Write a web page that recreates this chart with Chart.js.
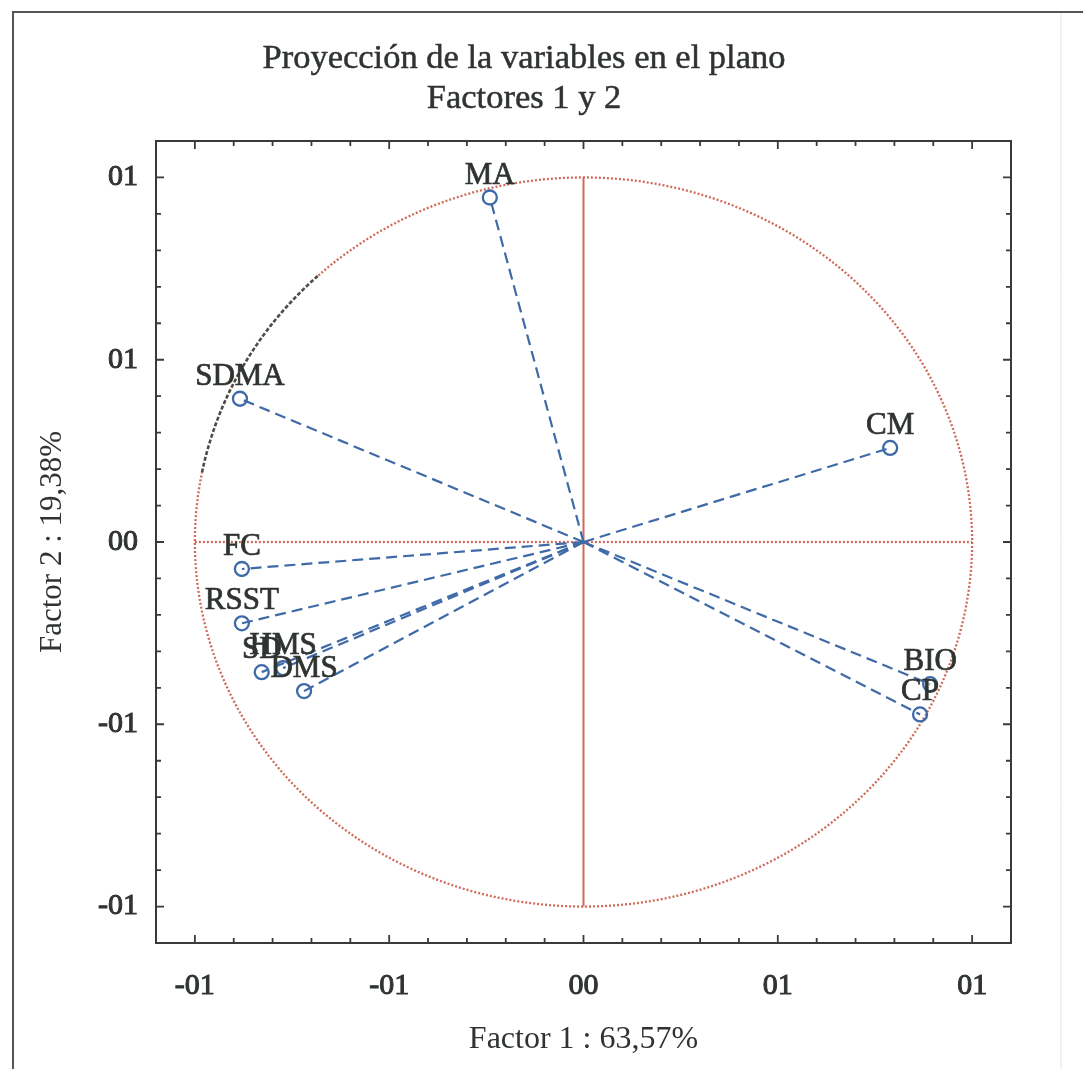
<!DOCTYPE html>
<html>
<head>
<meta charset="utf-8">
<script src="https://cdn.jsdelivr.net/npm/chart.js@4.4.1/dist/chart.umd.min.js"></script>
<style>
  html, body { margin: 0; padding: 0; background: #ffffff; }
  #wrap { position: relative; width: 1083px; height: 1069px; }
  canvas { position: absolute; left: 0; top: 0; }
</style>
</head>
<body>
<div id="wrap"><canvas id="c" width="1083" height="1069"></canvas></div>
<script>
// Variable coordinates on the first two factors
const variables = ['MA', 'SDMA', 'CM', 'FC', 'RSST', 'SD', 'HMS', 'DMS', 'BIO', 'CP'];
const factor1   = [-0.241, -0.884, 0.789, -0.879, -0.879, -0.828, -0.773, -0.719, 0.892, 0.866];
const factor2   = [ 0.945,  0.393, 0.258, -0.074, -0.223, -0.357, -0.346, -0.409, -0.390, -0.473];

// Axis tick values and their printed labels
const tickValues  = [-1, -0.5, 0, 0.5, 1];
const xTickLabels = ['-01', '-01', '00', '01', '01'];
const yTickLabels = ['-01', '-01', '00', '01', '01'];

const titleLines = ['Proyección de la variables en el plano', 'Factores 1 y 2'];
const xTitle = 'Factor 1 : 63,57%';
const yTitle = 'Factor 2 : 19,38%';

const SERIF = '"Liberation Serif", "DejaVu Serif", serif';
const INK = '#2f3430';
const BLUE = '#3f6aa8';
const RED = '#cf6a58';

// White page with the frame lines around the figure
const pageFrame = {
  id: 'pageFrame',
  beforeDraw(chart) {
    const ctx = chart.ctx;
    ctx.save();
    ctx.fillStyle = '#ffffff';
    ctx.fillRect(0, 0, chart.width, chart.height);
    ctx.strokeStyle = '#555555';
    ctx.lineWidth = 2;
    ctx.beginPath();
    ctx.moveTo(13, chart.height);
    ctx.lineTo(13, 12);
    ctx.lineTo(chart.width, 12);
    ctx.stroke();
    ctx.strokeStyle = '#e4e4e4';
    ctx.lineWidth = 1;
    ctx.beginPath();
    ctx.moveTo(1061, 14);
    ctx.lineTo(1061, chart.height);
    ctx.stroke();
    ctx.restore();
  }
};

// Correlation circle and the two reference axes
const unitCircle = {
  id: 'unitCircle',
  beforeDatasetsDraw(chart) {
    const {ctx, scales: {x, y}} = chart;
    const cx = x.getPixelForValue(0), cy = y.getPixelForValue(0);
    const rx = x.getPixelForValue(1) - cx;
    const ry = cy - y.getPixelForValue(1);
    const deg = Math.PI / 180;
    ctx.save();
    // red dotted circle (except the darker upper-left arc)
    ctx.strokeStyle = RED;
    ctx.lineWidth = 2.3;
    ctx.setLineDash([2, 2]);
    ctx.beginPath();
    ctx.ellipse(cx, cy, rx, ry, 0, -133 * deg, 191 * deg);
    ctx.stroke();
    // darker arc
    ctx.strokeStyle = '#4f4b45';
    ctx.lineWidth = 2.6;
    ctx.setLineDash([4, 2]);
    ctx.beginPath();
    ctx.ellipse(cx, cy, rx, ry, 0, -169 * deg, -133 * deg);
    ctx.stroke();
    // horizontal dotted axis
    ctx.strokeStyle = RED;
    ctx.lineWidth = 2.3;
    ctx.setLineDash([2, 2]);
    ctx.beginPath();
    ctx.moveTo(x.getPixelForValue(-1), cy);
    ctx.lineTo(x.getPixelForValue(1), cy);
    ctx.stroke();
    // vertical solid axis
    ctx.setLineDash([]);
    ctx.lineWidth = 2;
    ctx.beginPath();
    ctx.moveTo(cx, y.getPixelForValue(1));
    ctx.lineTo(cx, y.getPixelForValue(-1));
    ctx.stroke();
    ctx.restore();
  }
};

// Plot box with inward tick marks on all four sides
const plotBox = {
  id: 'plotBox',
  afterDraw(chart) {
    const {ctx, chartArea: a, scales: {x, y}} = chart;
    ctx.save();
    ctx.setLineDash([]);
    ctx.strokeStyle = '#3a3a3a';
    ctx.lineWidth = 2;
    ctx.strokeRect(a.left, a.top, a.right - a.left, a.bottom - a.top);
    ctx.lineWidth = 1.8;
    ctx.beginPath();
    for (let k = -10; k <= 10; k++) {
      const v = k / 10;
      const len = (k % 5 === 0) ? 8 : 5;
      const px = x.getPixelForValue(v);
      const py = y.getPixelForValue(v);
      ctx.moveTo(px, a.bottom); ctx.lineTo(px, a.bottom - len);
      ctx.moveTo(px, a.top);    ctx.lineTo(px, a.top + len);
      ctx.moveTo(a.left, py);   ctx.lineTo(a.left + len, py);
      ctx.moveTo(a.right, py);  ctx.lineTo(a.right - len, py);
    }
    ctx.stroke();
    ctx.restore();
  }
};

function inkText(ctx, text, x, y, weight) {
  ctx.fillText(text, x, y);
  ctx.lineWidth = weight;
  ctx.strokeText(text, x, y);
}

// Variable names above their points
const varLabels = {
  id: 'varLabels',
  afterDatasetsDraw(chart) {
    const ctx = chart.ctx;
    ctx.save();
    ctx.setLineDash([]);
    ctx.font = '31px ' + SERIF;
    ctx.fillStyle = INK;
    ctx.strokeStyle = INK;
    ctx.textAlign = 'center';
    ctx.textBaseline = 'alphabetic';
    chart.data.datasets.forEach((ds, i) => {
      const pt = chart.getDatasetMeta(i).data[1];
      inkText(ctx, variables[i], pt.x, pt.y - 14, 0.7);
    });
    ctx.restore();
  }
};

// Two-line chart heading
const heading = {
  id: 'heading',
  afterDraw(chart) {
    const ctx = chart.ctx;
    ctx.save();
    ctx.setLineDash([]);
    ctx.font = '34.5px ' + SERIF;
    ctx.fillStyle = INK;
    ctx.strokeStyle = INK;
    ctx.textAlign = 'center';
    ctx.textBaseline = 'alphabetic';
    inkText(ctx, titleLines[0], 524, 68, 0.5);
    inkText(ctx, titleLines[1], 524, 108, 0.5);
    ctx.restore();
  }
};

const datasets = variables.map((name, i) => ({
  label: name,
  data: [{x: 0, y: 0}, {x: factor1[i], y: factor2[i]}],
  showLine: true,
  borderColor: BLUE,
  borderWidth: 2.2,
  borderDash: [11, 6],
  pointRadius: [0, 7],
  pointHoverRadius: [0, 7],
  pointBorderWidth: 2.3,
  pointBorderColor: BLUE,
  pointBackgroundColor: 'rgba(0,0,0,0)'
}));

const fixTicks = (scale) => { scale.ticks = tickValues.map(v => ({value: v})); };

new Chart(document.getElementById('c'), {
  type: 'scatter',
  data: { datasets },
  plugins: [pageFrame, unitCircle, plotBox, varLabels, heading],
  options: {
    responsive: false,
    animation: false,
    events: [],
    layout: { padding: { left: 0, right: 72, top: 141, bottom: 0 } },
    plugins: {
      legend: { display: false },
      title: { display: false },
      tooltip: { enabled: false }
    },
    scales: {
      x: {
        type: 'linear',
        position: 'bottom',
        min: -1.1,
        max: 1.1,
        afterBuildTicks: fixTicks,
        afterFit: (s) => { s.height = 126; },
        grid: { display: false, drawTicks: false },
        border: { display: false },
        ticks: {
          autoSkip: false,
          maxRotation: 0,
          padding: 25,
          color: INK,
          textStrokeColor: INK,
          textStrokeWidth: 1,
          font: { family: SERIF, size: 30 },
          callback: (v) => xTickLabels[tickValues.indexOf(v)]
        },
        title: {
          display: true,
          text: xTitle,
          color: INK,
          font: { family: SERIF, size: 32 },
          padding: { top: 0, bottom: 10 }
        }
      },
      y: {
        type: 'linear',
        position: 'left',
        min: -1.1,
        max: 1.1,
        afterBuildTicks: fixTicks,
        afterFit: (s) => { s.width = 156; },
        grid: { display: false, drawTicks: false },
        border: { display: false },
        ticks: {
          autoSkip: false,
          padding: 18,
          color: INK,
          textStrokeColor: INK,
          textStrokeWidth: 1,
          font: { family: SERIF, size: 30 },
          callback: (v) => yTickLabels[tickValues.indexOf(v)]
        },
        title: {
          display: true,
          text: yTitle,
          color: INK,
          font: { family: SERIF, size: 31 },
          padding: { top: 34, bottom: 0 }
        }
      }
    }
  }
});
</script>
</body>
</html>
